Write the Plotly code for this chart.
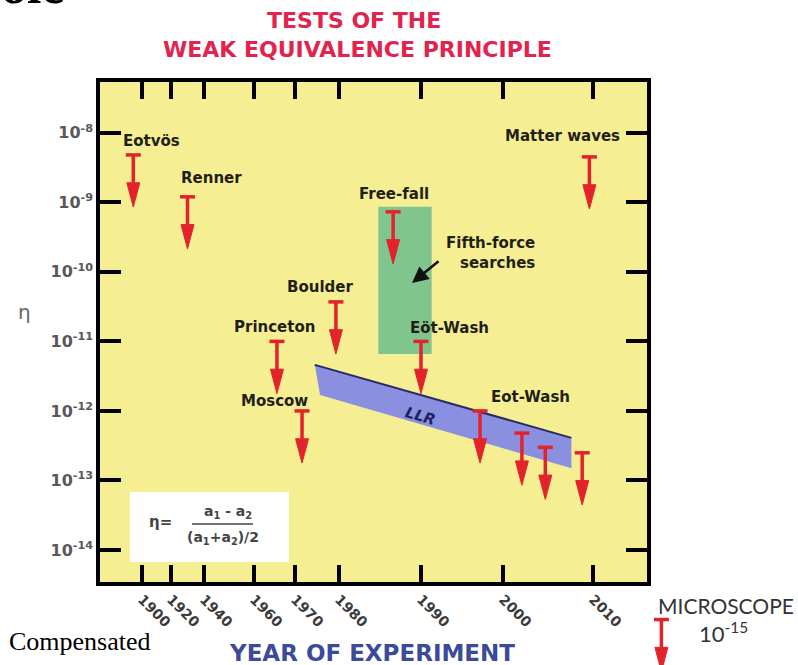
import numpy as np
import plotly.graph_objects as go

W, H = 798, 665

# ---- axes -------------------------------------------------------------
# The year axis is stretched: ticks are not evenly spaced in time.
TICK_YEARS = [1900, 1920, 1940, 1960, 1970, 1980, 1990, 2000, 2010]
TICK_POS = [42, 71, 104, 154, 195, 239, 321, 403, 493]   # axis units along x
X_RANGE = [0, 547]

Y_TICKS = [1e-8, 1e-9, 1e-10, 1e-11, 1e-12, 1e-13, 1e-14]
Y_TICK_TEXT = ["10<sup>-8</sup>", "10<sup>-9</sup>", "10<sup>-10</sup>", "10<sup>-11</sup>",
               "10<sup>-12</sup>", "10<sup>-13</sup>", "10<sup>-14</sup>"]
Y_RANGE = [-14.46, -7.27]          # log10 of eta

# ---- data -------------------------------------------------------------
# upper limits on eta from individual experiments
EXP_YEARS = [1894, 1930, 1965.6, 1971.6, 1979.3, 1986.6, 1990,
             1997.2, 2002.1, 2004.7, 2008.8, 2009.6]
EXP_ETA = [4.8e-9, 1.2e-9, 1.0e-11, 1.0e-12, 3.7e-11, 7.3e-10, 1.0e-11,
           1.0e-12, 4.8e-13, 3.0e-13, 2.5e-13, 4.5e-9]

# MICROSCOPE satellite result
MICRO_YEAR = [2017.6]
MICRO_ETA = [1e-15]

# fifth-force searches (shaded box)
FIFTH_YEARS = [1984.8, 1991.3]
FIFTH_ETA = [6.6e-12, 8.6e-10]

# lunar laser ranging band
LLR_YEARS_TOP = [1974.5, 2007.6]
LLR_ETA_TOP = [4.6e-12, 4.1e-13]
LLR_YEARS_BOT = [1975.7, 2007.6]
LLR_ETA_BOT = [1.7e-12, 1.5e-13]

# ---- styling ----------------------------------------------------------
RED = "#e3232b"
YELLOW = "#f6ee93"
GREEN = "#80c48e"
LLR_FILL = "#8a8fdf"
LLR_EDGE = "#262a66"
LABEL = "#1f1f16"
FONT = "DejaVu Sans"

CAP_HALF = 7.5        # half width of the limit bar (axis units = px)
HEAD_HALF = 6.5       # half width of the arrow head
HEAD_BASE_DEC = 0.40  # decades below the limit where the head starts
TIP_DEC = 0.75        # decades below the limit where the head ends


def year_to_pos(years):
    """Map years onto the stretched x axis (linear beyond the end ticks)."""
    y = np.asarray(years, float)
    p = np.interp(y, TICK_YEARS, TICK_POS)
    s0 = (TICK_POS[1] - TICK_POS[0]) / (TICK_YEARS[1] - TICK_YEARS[0])
    s1 = (TICK_POS[-1] - TICK_POS[-2]) / (TICK_YEARS[-1] - TICK_YEARS[-2])
    p = np.where(y < TICK_YEARS[0], TICK_POS[0] + (y - TICK_YEARS[0]) * s0, p)
    p = np.where(y > TICK_YEARS[-1], TICK_POS[-1] + (y - TICK_YEARS[-1]) * s1, p)
    return p


def limit_arrows(years, etas, xaxis="x", yaxis="y"):
    """Upper-limit markers: a bar at the limit and an arrow pointing down."""
    xs = year_to_pos(years)
    lx, ly, hx, hy = [], [], [], []
    for x, v in zip(xs, etas):
        base = v * 10 ** (-HEAD_BASE_DEC)
        tip = v * 10 ** (-TIP_DEC)
        lx += [x - CAP_HALF, x + CAP_HALF, None, x, x, None]
        ly += [v, v, None, v, v * 10 ** (-HEAD_BASE_DEC - 0.03), None]
        hx += [x - HEAD_HALF, x + HEAD_HALF, x, x - HEAD_HALF, None]
        hy += [base, base, tip, base, None]
    lines = go.Scatter(x=lx, y=ly, mode="lines", line=dict(color=RED, width=3.5),
                       hoverinfo="skip", showlegend=False, xaxis=xaxis, yaxis=yaxis)
    heads = go.Scatter(x=hx, y=hy, mode="lines", fill="toself", fillcolor=RED,
                       line=dict(color=RED, width=1), hoverinfo="skip",
                       showlegend=False, xaxis=xaxis, yaxis=yaxis)
    return [lines, heads]


def P(px, py):
    """Figure pixel -> paper coordinates (no margins)."""
    return px / W, 1 - py / H


fig = go.Figure()

# fifth-force box
fx = year_to_pos(FIFTH_YEARS)
fig.add_trace(go.Scatter(
    x=[fx[0], fx[1], fx[1], fx[0], fx[0]],
    y=[FIFTH_ETA[0], FIFTH_ETA[0], FIFTH_ETA[1], FIFTH_ETA[1], FIFTH_ETA[0]],
    mode="lines", fill="toself", fillcolor=GREEN, line=dict(width=0, color=GREEN),
    hoverinfo="skip", showlegend=False))

# LLR band
tx = year_to_pos(LLR_YEARS_TOP)
bx = year_to_pos(LLR_YEARS_BOT)
fig.add_trace(go.Scatter(
    x=[tx[0], tx[1], bx[1], bx[0], tx[0]],
    y=[LLR_ETA_TOP[0], LLR_ETA_TOP[1], LLR_ETA_BOT[1], LLR_ETA_BOT[0], LLR_ETA_TOP[0]],
    mode="lines", fill="toself", fillcolor=LLR_FILL, line=dict(width=0, color=LLR_FILL),
    hoverinfo="skip", showlegend=False))
fig.add_trace(go.Scatter(x=tx, y=LLR_ETA_TOP, mode="lines",
                         line=dict(color=LLR_EDGE, width=2),
                         hoverinfo="skip", showlegend=False))

for tr in limit_arrows(EXP_YEARS, EXP_ETA):
    fig.add_trace(tr)
for tr in limit_arrows(MICRO_YEAR, MICRO_ETA, xaxis="x2", yaxis="y2"):
    fig.add_trace(tr)

# ---- layout -----------------------------------------------------------
x0, x1 = 100, 647      # plot box, px
y0, y1 = 82, 582
dec_per_px = (Y_RANGE[1] - Y_RANGE[0]) / (y1 - y0)

fig.update_layout(
    width=W, height=H, margin=dict(l=0, r=0, t=0, b=0),
    paper_bgcolor="white", plot_bgcolor="rgba(0,0,0,0)",
    showlegend=False,
    xaxis=dict(domain=[x0 / W, x1 / W], range=X_RANGE, tickvals=TICK_POS,
               ticktext=[str(y) for y in TICK_YEARS], tickangle=45,
               ticks="inside", ticklen=17, tickwidth=4, tickcolor="black",
               showline=True, linewidth=3.5, linecolor="black", mirror="ticks",
               showgrid=False, zeroline=False, anchor="y",
               tickfont=dict(family=FONT, size=14, color="#3a3a3a", weight="bold")),
    yaxis=dict(domain=[1 - y1 / H, 1 - y0 / H], type="log", range=Y_RANGE,
               tickvals=Y_TICKS, ticktext=Y_TICK_TEXT,
               ticks="inside", ticklen=21, tickwidth=4, tickcolor="black",
               showline=True, linewidth=3.5, linecolor="black", mirror="ticks",
               showgrid=False, zeroline=False, anchor="x",
               tickfont=dict(family=FONT, size=16, color="#585858", weight="bold")),
    xaxis2=dict(domain=[x1 / W, 1], range=[X_RANGE[1], X_RANGE[1] + (W - x1)],
                visible=False, anchor="y2"),
    yaxis2=dict(domain=[0, 1 - y1 / H], type="log",
                range=[Y_RANGE[0] - (H - y1) * dec_per_px, Y_RANGE[0]],
                visible=False, anchor="x2"),
)

shapes = [
    dict(type="rect", xref="x domain", yref="y domain", x0=0, x1=1, y0=0, y1=1,
         fillcolor=YELLOW, line=dict(width=0), layer="below"),
]
# formula box
bx0, by0 = P(130, 492)
bx1, by1 = P(289, 562)
shapes.append(dict(type="rect", xref="paper", yref="paper", x0=bx0, x1=bx1, y0=by1, y1=by0,
                   fillcolor="white", line=dict(width=0), layer="above"))
lx0, ly = P(192, 524)
lx1, _ = P(253, 524)
shapes.append(dict(type="line", xref="paper", yref="paper", x0=lx0, x1=lx1, y0=ly, y1=ly,
                   line=dict(color="#444444", width=1.3), layer="above"))
fig.update_layout(shapes=shapes)


def label(text, px, py, size=15, color=LABEL, family=FONT, weight="bold",
          xanchor="center", align="center", angle=0, style="normal"):
    x, y = P(px, py)
    fig.add_annotation(x=x, y=y, xref="paper", yref="paper", text=text,
                       showarrow=False, xanchor=xanchor, yanchor="middle",
                       align=align, textangle=angle,
                       font=dict(family=family, size=size, color=color,
                                 weight=weight, style=style))


# titles
label("TESTS OF THE", 354, 20, size=22, color="#e2234e")
label("WEAK EQUIVALENCE PRINCIPLE", 357, 49, size=22, color="#e2234e")
label("YEAR OF EXPERIMENT", 372, 653, size=23, color="#3b4a9b")
label("η", 24, 312, size=20, color="#666666", weight="normal")

# experiment names
label("Eotvös", 151, 141)
label("Renner", 211, 178)
label("Free-fall", 394, 194)
label("Fifth-force<br>searches", 537, 253, xanchor="right", align="right")
label("Boulder", 320, 287)
label("Princeton", 274, 327)
label("Eöt-Wash", 449, 328)
label("Moscow", 274, 401)
label("Eot-Wash", 530, 397)
label("Matter waves", 562, 136)
label("LLR", 420, 416, size=15, color="#1c2260", angle=16, style="italic")

# arrow pointing at the fifth-force box
hx, hy = P(412, 283)
fig.add_annotation(x=hx, y=hy, ax=28, ay=-23, xref="paper", yref="paper",
                   axref="pixel", ayref="pixel", text="", showarrow=True,
                   arrowhead=2, arrowsize=1.3, arrowwidth=2.5, arrowcolor="#111111")

# formula
label("η=", 160, 522, size=15, color="#444444")
label("a<sub>1</sub> - a<sub>2</sub>", 228, 512, size=14, color="#444444")
label("(a<sub>1</sub>+a<sub>2</sub>)/2", 223, 538, size=14, color="#444444")

# MICROSCOPE
label("MICROSCOPE", 726, 605, size=21, color="#333333", family="Lato", weight="normal")
label("10<sup>-15</sup>", 723, 632, size=22, color="#333333", family="Lato", weight="normal")

# slide text around the figure
label("Compensated", 7, 641, size=26, color="black", family="Liberation Serif",
      weight="normal", xanchor="left", align="left")
label("ole", -1, -15, size=52, color="black", family="Liberation Serif",
      weight="bold", xanchor="left", align="left")

fig.write_html("out.html")
